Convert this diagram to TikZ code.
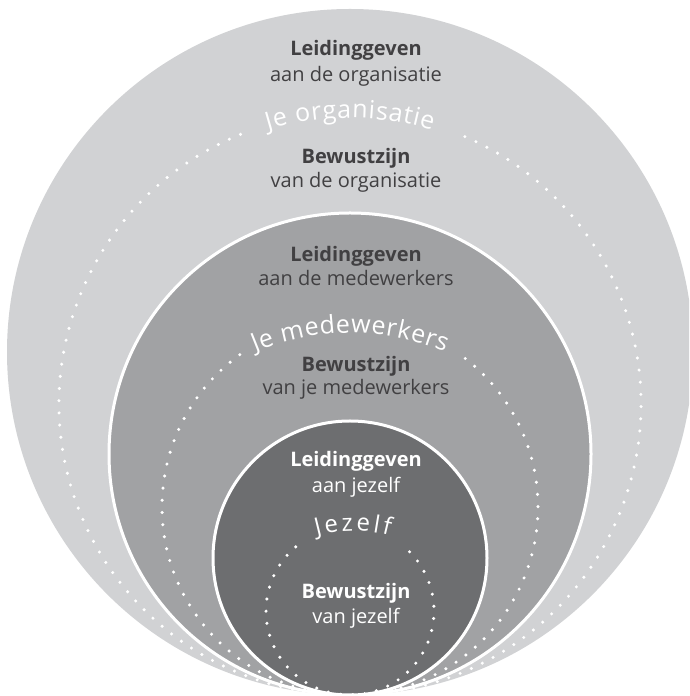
\documentclass[tikz,border=0pt]{standalone}
\usepackage{fontspec}
\setmainfont{Open Sans}
\usetikzlibrary{decorations.text}
\definecolor{ringlight}{HTML}{D1D2D4}
\definecolor{ringmid}{HTML}{A1A2A4}
\definecolor{ringdark}{HTML}{6D6E70}
\definecolor{txtdark}{HTML}{414042}
\newcommand{\lblfont}{\fontsize{20}{24}\selectfont}
\newcommand{\arcfont}{\fontsize{25}{25}\selectfont}
\newcommand{\arcfontsmall}{\fontsize{24}{24}\selectfont}
\begin{document}
\begin{tikzpicture}[x=1pt,y=1pt,
  ringedge/.style={draw=white,line width=3pt},
  dotline/.style={draw=white,line width=3.4pt,line cap=round,dash pattern=on 0pt off 12.2pt},
  lbl/.style={anchor=base,inner sep=0pt,font=\lblfont,text=txtdark},
  lblw/.style={lbl,text=white},
  boldlbl/.style={lbl,font=\lblfont\bfseries},
  boldlblw/.style={lblw,font=\lblfont\bfseries}]
\useasboundingbox (0,0) rectangle (689,696);
\fill[white] (0,0) rectangle (689,696);
\begin{scope}
\clip (0,0) rectangle (689,696);
% rings
\fill[ringlight] (350,344) circle[radius=343];
\fill[ringmid] (350,242) circle[radius=241];
\draw[ringedge] (350,242) circle[radius=241];
\fill[ringdark] (350,138) circle[radius=137];
\draw[ringedge] (350,138) circle[radius=137];
% dotted circles
\draw[dotline] (350,292) ++(112.1:291) arc[start angle=112.1,end angle=426.8,radius=291];
\draw[dotline] (350,189) ++(125.9:188) arc[start angle=125.9,end angle=412.3,radius=188];
\draw[dotline] (350,85) ++(130.2:84) arc[start angle=130.2,end angle=409.3,radius=84];
\end{scope}
% curved titles
\path[decorate,decoration={text along path,text align=fit to path,text color=white,
  text={|\arcfont|Je organisatie}}]
  (350,292) ++(106.7:286) arc[start angle=106.7,end angle=73.3,radius=286];
\path[decorate,decoration={text along path,text align=fit to path,text color=white,
  text={|\arcfont|Je medewerkers}}]
  (350,116) ++(112.6:247) arc[start angle=112.6,end angle=67.4,radius=247];
\path[decorate,decoration={text along path,text align=fit to path,text color=white,
  text={|\arcfontsmall|Jezelf}}]
  (353,26) ++(105.2:139) arc[start angle=105.2,end angle=74.8,radius=139];
% labels
\node[boldlbl] (l1a) at (356,640) {Leidinggeven};
\node[lbl] (l1b) at (356,614.3) {aan de organisatie};
\node[boldlbl] (b1a) at (356,532.7) {Bewustzijn};
\node[lbl] (b1b) at (356,508.7) {van de organisatie};
\node[boldlbl] (l2a) at (356,434.3) {Leidinggeven};
\node[lbl] (l2b) at (356,410) {aan de medewerkers};
\node[boldlbl] (b2a) at (356,324.3) {Bewustzijn};
\node[lbl] (b2b) at (356,301) {van je medewerkers};
\node[boldlblw] (l3a) at (356,229.3) {Leidinggeven};
\node[lblw] (l3b) at (356,203.3) {aan jezelf};
\node[boldlblw] (b3a) at (356,97.7) {Bewustzijn};
\node[lblw] (b3b) at (356,72.7) {van jezelf};
\end{tikzpicture}
\end{document}
